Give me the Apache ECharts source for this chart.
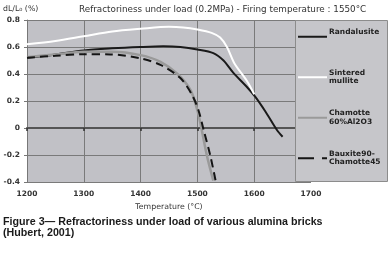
<!DOCTYPE html>
<html><head><meta charset="utf-8">
<script src="https://cdn.jsdelivr.net/npm/echarts@6/dist/echarts.min.js"></script>
<style>html,body{margin:0;padding:0;background:#fff}#c{width:392px;height:260px}</style>
</head><body><div id="c"></div>
<script>
const xTicks = [1200, 1300, 1400, 1500, 1600, 1700];
const yTicks = [-0.4, -0.2, 0, 0.2, 0.4, 0.6, 0.8];
const seriesNames = ['Randalusite', 'Sintered mullite', 'Chamotte 60%Al2O3', 'Bauxite90-Chamotte45'];
const randalusite = [[1200,0.52],[1250,0.545],[1300,0.575],[1350,0.59],[1400,0.60],[1440,0.605],[1470,0.60],[1500,0.582],[1528,0.555],[1546,0.50],[1563,0.41],[1588,0.30],[1602,0.23],[1620,0.12],[1640,-0.015],[1650,-0.065]];
const mullite = [[1200,0.62],[1250,0.645],[1300,0.68],[1350,0.715],[1400,0.735],[1450,0.75],[1475,0.745],[1500,0.73],[1525,0.705],[1540,0.67],[1552,0.60],[1565,0.48],[1587,0.35],[1600,0.25]];
const chamotte = [[1200,0.525],[1250,0.545],[1300,0.565],[1350,0.565],[1400,0.54],[1435,0.49],[1465,0.40],[1488,0.28],[1500,0.13],[1505,0.04],[1517,-0.21],[1528,-0.39]];
const bauxite = [[1200,0.52],[1250,0.535],[1300,0.546],[1347,0.545],[1400,0.516],[1435,0.467],[1470,0.37],[1490,0.25],[1502,0.13],[1511,-0.015],[1523,-0.21],[1532,-0.39]];

const chart = echarts.init(document.getElementById('c'), null, {renderer:'canvas'});
const font = 'DejaVu Sans, Verdana, sans-serif';
const lineStyles = [
  {color:'#1a1a1a', width:2},
  {color:'#ffffff', width:2},
  {color:'#9a9a9a', width:2.5},
  {color:'#151515', width:2, type:[8,5]}
];
const datas = [randalusite, mullite, chamotte, bauxite];
const legendLabels = {'Randalusite':'Randalusite\n ', 'Sintered mullite':'Sintered\nmullite',
  'Chamotte 60%Al2O3':'Chamotte\n60%Al2O3', 'Bauxite90-Chamotte45':'Bauxite90-\nChamotte45'};
const legendIcons = ['rect', 'rect', 'rect', 'path://M0,0h16v2h-16z M24,0h5v2h-5z'];
chart.setOption({
  animation:false,
  backgroundColor:'#ffffff',
  title:{text:'Refractoriness under load (0.2MPa) - Firing temperature : 1550°C', left:74, top:0,
    textStyle:{fontFamily:font, fontSize:8.8, fontWeight:'normal', color:'#333'}},
  grid:{left:26, right:81, top:20, bottom:78, show:true, backgroundColor:'#c1c1c6', borderWidth:0},
  xAxis:[{type:'value', min:xTicks[0], max:xTicks[xTicks.length-1], interval:100,
    axisLine:{show:false, onZero:false}, axisTick:{show:false},
    axisLabel:{fontFamily:font, fontSize:7.5, fontWeight:'bold', color:'#333', margin:8, formatter:v=>String(v)},
    splitLine:{show:true, lineStyle:{color:'#7a7a7a', width:1}},
    name:'Temperature (°C)', nameLocation:'middle', nameGap:15,
    nameTextStyle:{fontFamily:font, fontSize:7.8, color:'#333'}},
   {type:'value', min:xTicks[0], max:xTicks[xTicks.length-1], interval:100, position:'bottom',
    axisLine:{show:true, onZero:true, lineStyle:{color:'#555', width:2}},
    axisTick:{show:true, inside:false, length:3, lineStyle:{color:'#333', width:1.5}},
    axisLabel:{show:false}, splitLine:{show:false}}],
  yAxis:{type:'value', min:yTicks[0], max:yTicks[yTicks.length-1], interval:0.2,
    axisLine:{show:true, lineStyle:{color:'#777', width:1}},
    axisTick:{show:true, length:3, lineStyle:{color:'#777'}},
    axisLabel:{fontFamily:font, fontSize:7.5, fontWeight:'bold', color:'#333', margin:7,
      formatter:v=>String(Math.round(v*10)/10)},
    splitLine:{show:true, lineStyle:{color:'#7a7a7a', width:1}},
    name:'dL/L₀ (%)', nameLocation:'end', nameGap:7,
    nameTextStyle:{fontFamily:font, fontSize:7.8, color:'#333', align:'left', padding:[0,0,0,-24]}},
  graphic:[
    {type:'rect', shape:{x:295.5, y:20.5, width:92, height:161}, style:{fill:'#c6c6ca', stroke:'#8c8c8c', lineWidth:1}, z:5},
    {type:'text', left:3, top:217, z:10, style:{text:'Figure 3\u2014 Refractoriness under load of various alumina bricks\n(Hubert, 2001)',
      font:'bold 10.7px Liberation Sans, Arial, sans-serif', fill:'#1a1a1a', lineHeight:11}}
  ],
  legend:{
    data:seriesNames.map((n,i)=>({name:n, icon:legendIcons[i]})),
    orient:'vertical', left:298, top:24, itemWidth:29, itemHeight:2, itemGap:15, padding:0, z:10,
    formatter:n=>legendLabels[n],
    itemStyle:{borderWidth:0},
    textStyle:{fontFamily:font, fontSize:7.5, fontWeight:'bold', color:'#222', lineHeight:8.5, padding:[8.5,0,0,-3]},
    selectedMode:false
  },
  series: seriesNames.map((n,i)=>({
    name:n, type:'line', data:datas[i], smooth:0.3, symbol:'none', xAxisIndex:0,
    lineStyle:lineStyles[i], itemStyle:{color:lineStyles[i].color}, z:3+i
  }))
});
</script></body></html>
